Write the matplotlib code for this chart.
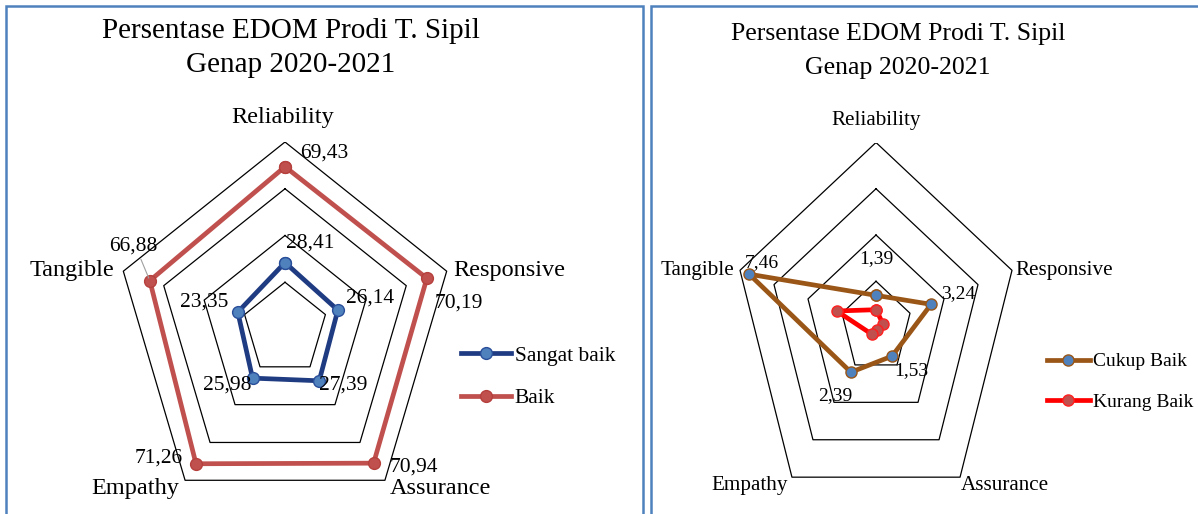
import numpy as np
import matplotlib
matplotlib.use("Agg")
import matplotlib.pyplot as plt
from matplotlib.patches import Rectangle

plt.rcParams['font.family'] = ['Liberation Serif', 'DejaVu Serif']

# ── data ──────────────────────────────────────────────────────────────────────
categories = ["Reliability", "Responsive", "Assurance", "Empathy", "Tangible"]
sangat_baik = [28.41, 26.14, 27.39, 25.98, 23.35]
baik = [69.43, 70.19, 70.94, 71.26, 66.88]
cukup_baik = [1.39, 3.24, 1.53, 2.39, 7.46]
kurang_baik = [0.77, 0.43, 0.14, 0.37, 2.31]
title_1 = "Persentase EDOM Prodi T. Sipil"
title_2 = "Genap 2020-2021"

W, H = 1198, 514
fig = plt.figure(figsize=(W / 100, H / 100), dpi=100)
ang = np.arange(len(categories)) * 2 * np.pi / len(categories)


def fx(px):
    return px / W


def fy(py):
    return 1 - py / H


def add_px_axes(cx, cy, rx, ry):
    # axes whose limits (-1..1)*rmax map onto the pentagon radius in pixels
    ax = fig.add_axes([fx(cx - rx), fy(cy + ry), 2 * rx / W, 2 * ry / H])
    ax.axis("off")
    return ax


def pent(vals):
    v = np.asarray(list(vals) + [vals[0]], dtype=float)
    a = np.append(ang, ang[0])
    return v * np.sin(a), v * np.cos(a)


def fmt(v):
    return f"{v:.2f}".replace(".", ",")


def radar(ax, rmax, rings, cat_off, cat_fs):
    ax.set_xlim(-rmax, rmax)
    ax.set_ylim(-rmax, rmax)
    for r in rings:
        x, y = pent([r] * 5)
        ax.plot(x, y, color="black", lw=0.9, zorder=1)
    ox, oy = pent([rmax] * 5)
    for i, name in enumerate(categories):
        ax.annotate(name, (ox[i], oy[i]), xytext=cat_off[i], textcoords="offset pixels",
                    ha="center", va="center", fontsize=cat_fs)


def series(ax, vals, color, mface, medge, label, offs, fs, ms=8.5):
    x, y = pent(vals)
    line, = ax.plot(x, y, color=color, lw=3.4, marker="o", ms=ms,
                    mfc=mface, mec=medge, mew=1.0, label=label, zorder=3,
                    clip_on=False)
    if offs is not None:
        for i, v in enumerate(vals):
            ax.annotate(fmt(v), (x[i], y[i]), xytext=offs[i], textcoords="offset pixels",
                        ha="center", va="center", fontsize=fs, zorder=4)
    return line


# ── left chart ────────────────────────────────────────────────────────────────
axL = add_px_axes(285, 329, 170, 187)
radar(axL, 80, [20, 40, 60, 80],
      [(-2, 24), (63, 1), (56, -8), (-50, -8), (-51, 1)], 17.5)
l1 = series(axL, sangat_baik, "#1f3b82", "#4f81bd", "#2a4f9a", "Sangat baik",
            [(25, 20), (32, 12), (24, -4), (-25, -7), (-34, 10)], 15.5)
l2 = series(axL, baik, "#c0504d", "#c0504d", "#b5403d", "Baik",
            [(39, 14), (32, -25), (40, -4), (-37, 6), (-17, 35)], 15.5)
# leader line for Tangible label
bx, by = pent(baik)
axL.annotate("", (bx[4], by[4]), xytext=(-10, 24), textcoords="offset pixels",
             arrowprops=dict(arrowstyle="-", color="#a0a0a0", lw=0.8))
fig.legend(handles=[l1, l2], loc="center left", bbox_to_anchor=(fx(461), fy(377)),
           frameon=False, fontsize=15.5, handlelength=2.3, handletextpad=0.2,
           labelspacing=1.05, borderpad=0, borderaxespad=0)
fig.text(fx(291), fy(31), title_1, ha="center", va="center", fontsize=21)
fig.text(fx(291), fy(65), title_2, ha="center", va="center", fontsize=21)

# ── right chart ───────────────────────────────────────────────────────────────
axR = add_px_axes(876, 327.5, 143, 185)
radar(axR, 8, [2, 4, 6, 8],
      [(0, 22), (52, 0), (45, -8), (-42, -8), (-43, 0)], 15.2)
l3 = series(axR, cukup_baik, "#9a5617", "#4f81bd", "#9a5617", "Cukup Baik",
            [(0, 37), (27, 11), (19, -14), (-16, -23), (13, 12)], 14, ms=8)
l4 = series(axR, kurang_baik, "#ff0000", "#c0504d", "#ff2020", "Kurang Baik",
            None, 14, ms=8)
fig.legend(handles=[l3, l4], loc="center left", bbox_to_anchor=(fx(1047), fy(382)),
           frameon=False, fontsize=14, handlelength=2.2, handletextpad=0.15,
           labelspacing=1.2, borderpad=0, borderaxespad=0)
fig.text(fx(898), fy(34), title_1, ha="center", va="center", fontsize=18.5)
fig.text(fx(898), fy(68), title_2, ha="center", va="center", fontsize=18.5)

# ── panel borders ─────────────────────────────────────────────────────────────
border = "#4f81bd"
fig.add_artist(Rectangle((fx(6), fy(530)), fx(643 - 6), (530 - 6) / H, transform=fig.transFigure,
                         fill=False, ec=border, lw=1.8))
fig.add_artist(Rectangle((fx(651), fy(530)), fx(1230 - 651), (530 - 6) / H, transform=fig.transFigure,
                         fill=False, ec=border, lw=1.8))

fig.savefig("out.png", dpi=100)
